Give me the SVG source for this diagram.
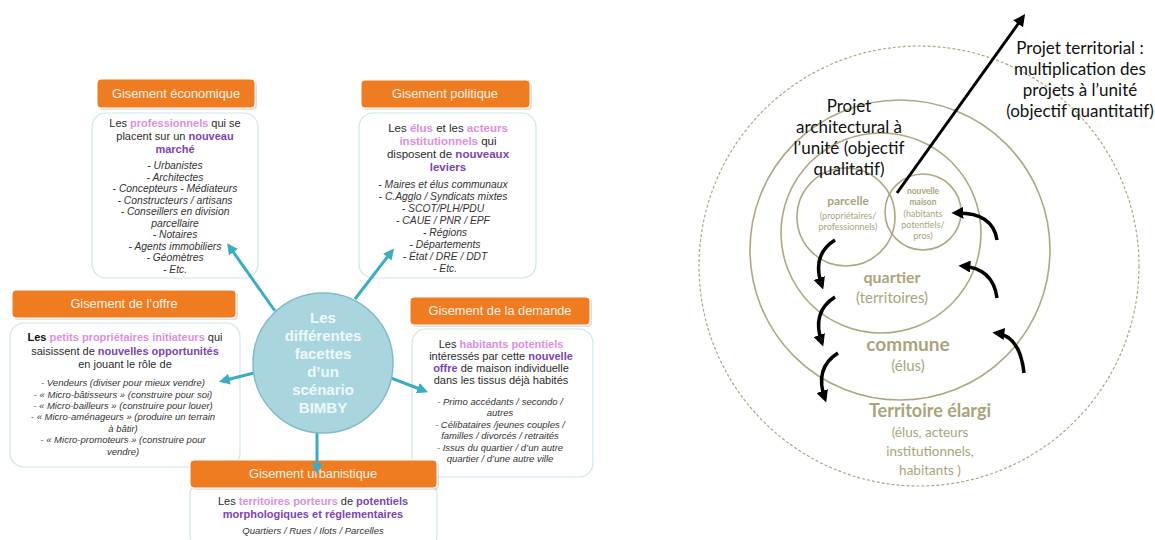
<svg xmlns="http://www.w3.org/2000/svg" width="1155" height="540" viewBox="0 0 1155 540">
<style>
.hdr{fill:#f07c21;stroke:#ffffff;stroke-width:1}
.shd{fill:#bdbdbd;opacity:.45}
.hdrt{font-family:"Liberation Sans",Arial,sans-serif;font-size:12.8px;fill:#fff3e6;text-anchor:middle}
.body{fill:#ffffff;stroke:#cfe5ea;stroke-width:1.2}
.bt{font-family:"Liberation Sans",Arial,sans-serif;font-size:11px;fill:#2b2b2b;text-anchor:middle}
.li{font-size:9.5px;font-style:italic;fill:#333}
.lb{font-size:10.3px}
.b2{font-size:11.5px}
.pk{fill:#dc8fe0;font-weight:bold}
.pu{fill:#7a45b6;font-weight:bold}
.bk{font-weight:bold;fill:#111}
.ctr{font-family:"Liberation Sans",Arial,sans-serif;font-size:15px;font-weight:bold;fill:#eef8fa;text-anchor:middle}
.teal{stroke:#3aadc4;stroke-width:3;fill:none}
.circ{fill:none;stroke:#ada880;stroke-width:1.6}
.dash{fill:none;stroke:#ada880;stroke-width:1.2;stroke-dasharray:3 2}
.ol{font-family:Lato,"Open Sans",sans-serif;fill:#aaa47b;text-anchor:middle}
.olb{font-weight:bold}
.blk{font-family:Lato,"Open Sans",sans-serif;font-size:17px;fill:#111;text-anchor:middle}
.barr{stroke:#000;stroke-width:3.5;fill:none}
</style>
<defs>
<marker id="tealHead" viewBox="0 0 10 10" refX="7" refY="5" markerWidth="11" markerHeight="11" markerUnits="userSpaceOnUse" orient="auto"><path d="M0,0 L10,5 L0,10 z" fill="#3aadc4"/></marker>
<marker id="blackHead" viewBox="0 0 10 10" refX="7" refY="5" markerWidth="12" markerHeight="12" markerUnits="userSpaceOnUse" orient="auto"><path d="M0,0 L10,5 L0,10 z" fill="#000"/></marker>
</defs>
<rect width="1155" height="540" fill="#ffffff"/>

<!-- Left diagram nodes -->
<g id="eco">
<rect class="body" x="92" y="113" width="166" height="165" rx="14"/>
<rect class="shd" x="99" y="81" width="158" height="29" rx="4"/>
<rect class="hdr" x="97" y="79" width="158" height="29" rx="4"/>
<text class="hdrt" x="176" y="98">Gisement économique</text>
<text class="bt" x="175" y="127">Les <tspan class="pk">professionnels</tspan> qui se</text>
<text class="bt" x="175" y="140">placent sur un <tspan class="pu">nouveau</tspan></text>
<text class="bt" x="175" y="153"><tspan class="pu">marché</tspan></text>
<text class="bt li lb" x="175" y="169">- Urbanistes</text>
<text class="bt li lb" x="175" y="180.5">- Architectes</text>
<text class="bt li lb" x="175" y="192">- Concepteurs - Médiateurs</text>
<text class="bt li lb" x="175" y="203.5">- Constructeurs / artisans</text>
<text class="bt li lb" x="175" y="215">-  Conseillers en division</text>
<text class="bt li lb" x="175" y="226.5">parcellaire</text>
<text class="bt li lb" x="175" y="238">- Notaires</text>
<text class="bt li lb" x="175" y="249.5">- Agents immobiliers</text>
<text class="bt li lb" x="175" y="261">- Géomètres</text>
<text class="bt li lb" x="175" y="272.5">- Etc.</text>
</g>

<g id="pol">
<rect class="body" x="359" y="113" width="177" height="165" rx="14"/>
<rect class="shd" x="363" y="82" width="169" height="28" rx="4"/>
<rect class="hdr" x="361" y="80" width="169" height="28" rx="4"/>
<text class="hdrt" x="445" y="98">Gisement politique</text>
<text class="bt b2" x="448" y="132">Les <tspan class="pk">élus</tspan> et les <tspan class="pk">acteurs</tspan></text>
<text class="bt b2" x="448" y="145"><tspan class="pk">institutionnels</tspan> qui</text>
<text class="bt b2" x="448" y="158">disposent de <tspan class="pu">nouveaux</tspan></text>
<text class="bt b2" x="448" y="171"><tspan class="pu">leviers</tspan></text>
<text class="bt li lb" x="443" y="188">-  Maires et élus communaux</text>
<text class="bt li lb" x="443" y="200">-  C.Agglo / Syndicats mixtes</text>
<text class="bt li lb" x="443" y="212">-  SCOT/PLH/PDU</text>
<text class="bt li lb" x="443" y="224">-  CAUE / PNR /  EPF</text>
<text class="bt li lb" x="445" y="236">-  Régions</text>
<text class="bt li lb" x="445" y="248">-  Départements</text>
<text class="bt li lb" x="445" y="260">-  État / DRE / DDT</text>
<text class="bt li lb" x="445" y="272">-  Etc.</text>
</g>

<g id="offre">
<rect class="body" x="10" y="323" width="230" height="144" rx="14"/>
<rect class="shd" x="14" y="292" width="224" height="28" rx="4"/>
<rect class="hdr" x="12" y="290" width="224" height="28" rx="4"/>
<text class="hdrt" x="124" y="308">Gisement de l’offre</text>
<text class="bt" x="125" y="341"><tspan class="bk">Les</tspan> <tspan class="pk">petits propriétaires initiateurs</tspan> qui</text>
<text class="bt" x="125" y="355">saisissent de <tspan class="pu">nouvelles opportunités</tspan></text>
<text class="bt" x="125" y="368">en jouant le rôle de</text>
<text class="bt li" x="123" y="386">- Vendeurs (diviser pour mieux vendre)</text>
<text class="bt li" x="123" y="397.5">-  « Micro-bâtisseurs » (construire pour soi)</text>
<text class="bt li" x="123" y="408.5">-  « Micro-bailleurs » (construire pour louer)</text>
<text class="bt li" x="123" y="420">-  « Micro-aménageurs » (produire un terrain</text>
<text class="bt li" x="123" y="431.5">à bâtir)</text>
<text class="bt li" x="123" y="443">-  « Micro-promoteurs » (construire pour</text>
<text class="bt li" x="123" y="455">vendre)</text>
</g>

<g id="demande">
<rect class="body" x="412" y="329" width="181" height="148" rx="14"/>
<rect class="shd" x="412" y="299" width="180" height="28" rx="4"/>
<rect class="hdr" x="410" y="297" width="180" height="28" rx="4"/>
<text class="hdrt" x="500" y="315">Gisement de la demande</text>
<text class="bt" x="501" y="348">Les <tspan class="pk">habitants potentiels</tspan></text>
<text class="bt" x="501" y="360">intéressés par cette <tspan class="pu">nouvelle</tspan></text>
<text class="bt" x="501" y="372"><tspan class="pu">offre</tspan> de maison individuelle</text>
<text class="bt" x="501" y="384">dans les tissus déjà habités</text>
<text class="bt li" x="500" y="405">-  Primo accédants / secondo /</text>
<text class="bt li" x="500" y="416">autres</text>
<text class="bt li" x="500" y="427.5">-  Célibataires /jeunes couples /</text>
<text class="bt li" x="500" y="438.5">familles / divorcés / retraités</text>
<text class="bt li" x="500" y="451">-  Issus du quartier / d’un autre</text>
<text class="bt li" x="500" y="462">quartier / d’une autre ville</text>
</g>

<g id="urba">
<rect class="body" x="190" y="484" width="247" height="62" rx="10"/>
<rect class="shd" x="192" y="462" width="247" height="28" rx="4"/>
<rect class="hdr" x="190" y="460" width="247" height="28" rx="4"/>
<text class="hdrt" x="313" y="478">Gisement urbanistique</text>
<text class="bt" x="313" y="505">Les <tspan class="pk">territoires porteurs</tspan> de <tspan class="pu">potentiels</tspan></text>
<text class="bt" x="313" y="518"><tspan class="pu">morphologiques et réglementaires</tspan></text>
<text class="bt li" x="313" y="534">Quartiers / Rues / Ilots / Parcelles</text>
</g>

<!-- Left connectors -->
<g id="connectors-left">
<path class="teal" d="M275,311 L229,246" marker-end="url(#tealHead)"/>
<path class="teal" d="M355,299 L392,251" marker-end="url(#tealHead)"/>
<path class="teal" d="M254,373 L222,381" marker-end="url(#tealHead)"/>
<path class="teal" d="M391,378 L425,391" marker-end="url(#tealHead)"/>
<path class="teal" d="M317,430 L317,471" marker-end="url(#tealHead)"/>
</g>

<g id="centre">
<circle cx="323" cy="363" r="70" fill="#a8d5de" stroke="#7fbccb" stroke-width="1.5"/>
<text class="ctr" x="323" y="323">Les</text>
<text class="ctr" x="323" y="341">différentes</text>
<text class="ctr" x="323" y="359">facettes</text>
<text class="ctr" x="323" y="377">d’un</text>
<text class="ctr" x="323" y="395">scénario</text>
<text class="ctr" x="323" y="413">BIMBY</text>
</g>

<!-- Right diagram -->
<g id="territoire">
<circle class="dash" cx="919" cy="266" r="220"/>
<text class="ol olb" x="930" y="417" font-size="18">Territoire élargi</text>
<text class="ol" x="930" y="437" font-size="13.5">(élus, acteurs</text>
<text class="ol" x="930" y="456" font-size="13.5">institutionnels,</text>
<text class="ol" x="930" y="475" font-size="13.5">habitants )</text>
</g>
<g id="commune">
<circle class="circ" cx="900" cy="250" r="150"/>
<text class="ol olb" x="908" y="351" font-size="19">commune</text>
<text class="ol" x="908" y="371" font-size="15">(élus)</text>
</g>
<g id="quartier">
<circle class="circ" cx="881" cy="233" r="100"/>
<text class="ol olb" x="892" y="283" font-size="16">quartier</text>
<text class="ol" x="892" y="303" font-size="15">(territoires)</text>
</g>
<g id="parcelle">
<circle class="circ" cx="846" cy="217" r="49"/>
<text class="ol olb" x="848" y="205" font-size="12">parcelle</text>
<text class="ol" x="848" y="219" font-size="9">(propriétaires/</text>
<text class="ol" x="848" y="230" font-size="9">professionnels)</text>
</g>
<g id="maison">
<circle class="circ" cx="923" cy="212" r="38"/>
<text class="ol olb" x="923" y="194" font-size="8.5">nouvelle</text>
<text class="ol olb" x="923" y="205" font-size="8.5">maison</text>
<text class="ol" x="923" y="217" font-size="9">(habitants</text>
<text class="ol" x="923" y="228" font-size="9">potentiels/</text>
<text class="ol" x="923" y="239" font-size="9">pros)</text>
</g>
<g id="label-architectural">
<text class="blk" x="849" y="112">Projet</text>
<text class="blk" x="849" y="133">architectural à</text>
<text class="blk" x="849" y="154">l’unité (objectif</text>
<text class="blk" x="849" y="175">qualitatif)</text>
</g>
<g id="label-territorial">
<text class="blk" x="1080" y="54">Projet territorial :</text>
<text class="blk" x="1080" y="75">multiplication des</text>
<text class="blk" x="1080" y="96">projets à l’unité</text>
<text class="blk" x="1080" y="117">(objectif quantitatif)</text>
</g>

<g id="connectors-right">
<path d="M897,193 L1023,17" stroke="#000" stroke-width="3" fill="none" marker-end="url(#blackHead)"/>
<path class="barr" d="M835,240 Q811,255 822,286" marker-end="url(#blackHead)"/>
<path class="barr" d="M835,297 Q811,312 822,343" marker-end="url(#blackHead)"/>
<path class="barr" d="M838,353 Q814,368 825,399" marker-end="url(#blackHead)"/>
<path class="barr" d="M997,240 Q993,212 955,213" marker-end="url(#blackHead)"/>
<path class="barr" d="M997,298 Q993,268 962,266" marker-end="url(#blackHead)"/>
<path class="barr" d="M1024,373 Q1020,336 996,333" marker-end="url(#blackHead)"/>
</g>
</svg>
